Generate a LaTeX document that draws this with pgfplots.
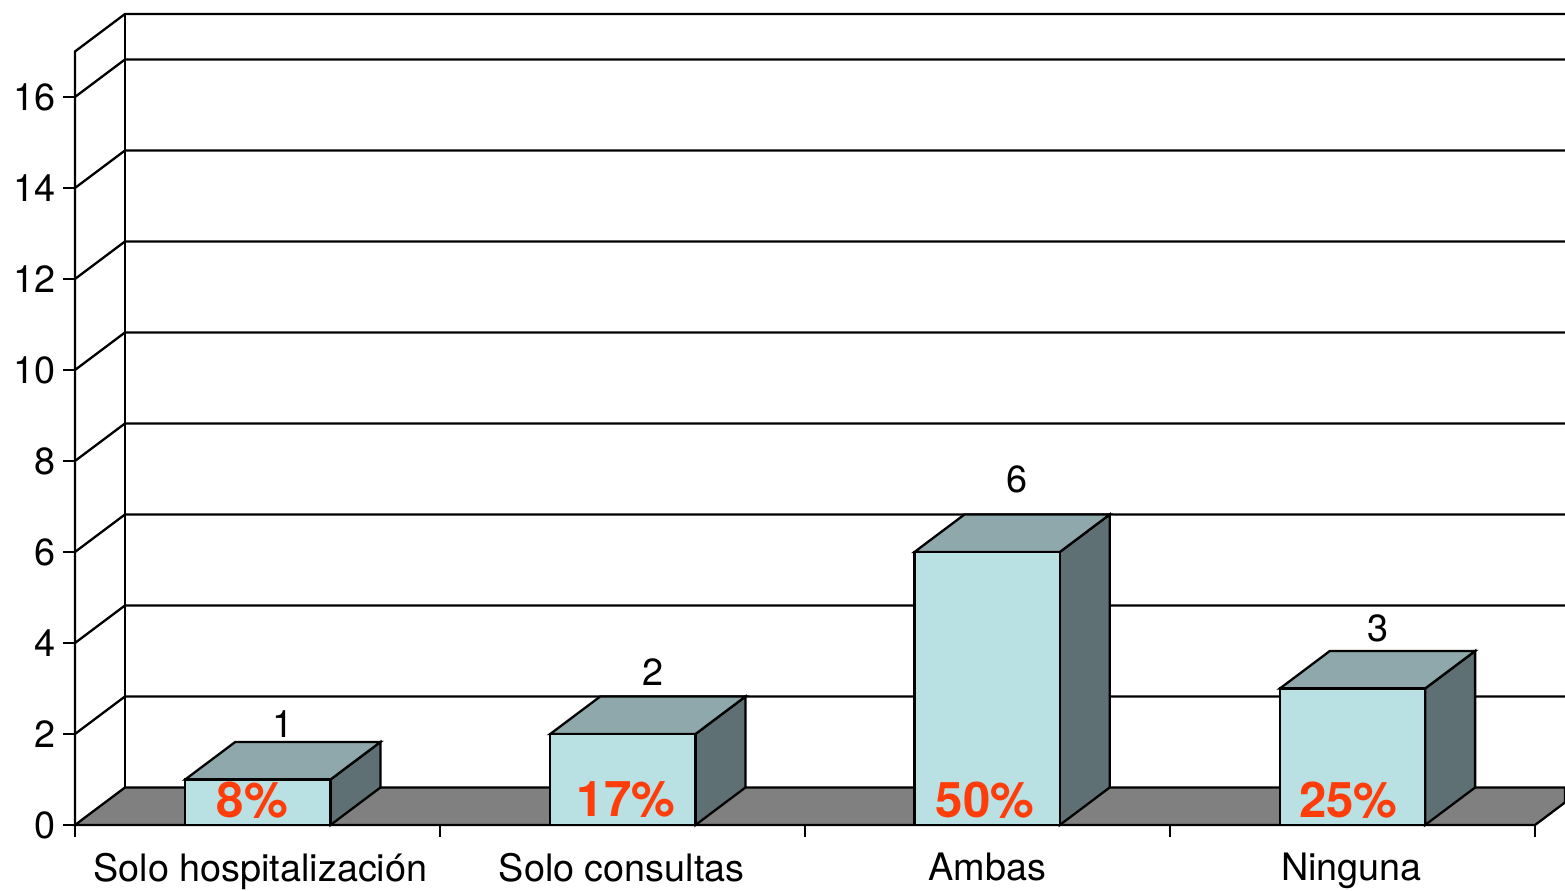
\documentclass[border=0pt]{standalone}
\usepackage{fontspec}
\setmainfont{TeX Gyre Heros}
\usepackage{pgfplots}
\pgfplotsset{compat=1.18}
\definecolor{barfront}{HTML}{B9E0E3}
\definecolor{bartop}{HTML}{8FA8AB}
\definecolor{barside}{HTML}{5E7073}
\definecolor{floorgrey}{HTML}{808080}
\definecolor{pct}{HTML}{FF3D0A}
\begin{document}
\begin{tikzpicture}
\begin{axis}[
    scale only axis,
    width=745pt,
    height=405.5pt,
    xmin=0, xmax=4.0822,
    ymin=0, ymax=17.824,
    clip=false,
    axis x line*=bottom,
    axis y line*=left,
    axis line style={-,draw=none},
    ytick={0,2,4,6,8,10,12,14,16},
    xtick={0,1,2,3,4},
    xticklabels={},
    extra x ticks={0.508,1.498,2.5,3.497},
    extra x tick labels={Solo hospitalización,Solo consultas,Ambas,Ninguna},
    extra x tick style={major tick length=0pt},
    tick align=outside,
    major tick length=6pt,
    tick style={black,line width=0.8pt},
    ytick style={line width=1.1pt},
    /pgf/number format/assume math mode=true,
    tick label style={font=\fontsize{18.9}{20}\selectfont},
    xticklabel style={yshift=-10.5pt},
    yticklabel style={xshift=0pt},
    every axis plot/.append style={line width=1.15pt,line join=miter},
]
% back wall and its grid lines
\addplot[black] coordinates {(0,0) (0,17) (0.137,17.825) (4.0822,17.825)};
\addplot[black] coordinates {(0.137,0.825) (0.137,17.825)};
\addplot[black] coordinates {(0,2) (0.137,2.825) (4.0822,2.825)};
\addplot[black] coordinates {(0,4) (0.137,4.825) (4.0822,4.825)};
\addplot[black] coordinates {(0,6) (0.137,6.825) (4.0822,6.825)};
\addplot[black] coordinates {(0,8) (0.137,8.825) (4.0822,8.825)};
\addplot[black] coordinates {(0,10) (0.137,10.825) (4.0822,10.825)};
\addplot[black] coordinates {(0,12) (0.137,12.825) (4.0822,12.825)};
\addplot[black] coordinates {(0,14) (0.137,14.825) (4.0822,14.825)};
\addplot[black] coordinates {(0,16) (0.137,16.825) (4.0822,16.825)};
% floor
\addplot[black,fill=floorgrey] coordinates {(0,0) (0.137,0.825) (4.0822,0.825) (4.0822,0.495) (4,0)} -- cycle;
% bar sides
\addplot[black,fill=barside] coordinates {(0.7,0) (0.837,0.825) (0.837,1.825) (0.7,1)} -- cycle;
\addplot[black,fill=barside] coordinates {(1.7,0) (1.837,0.825) (1.837,2.825) (1.7,2)} -- cycle;
\addplot[black,fill=barside] coordinates {(2.698,0) (2.835,0.825) (2.835,6.825) (2.698,6)} -- cycle;
\addplot[black,fill=barside] coordinates {(3.699,0) (3.836,0.825) (3.836,3.825) (3.699,3)} -- cycle;
% bar tops
\addplot[black,fill=bartop] coordinates {(0.302,1) (0.439,1.825) (0.837,1.825) (0.7,1)} -- cycle;
\addplot[black,fill=bartop] coordinates {(1.302,2) (1.439,2.825) (1.837,2.825) (1.7,2)} -- cycle;
\addplot[black,fill=bartop] coordinates {(2.3,6) (2.437,6.825) (2.835,6.825) (2.698,6)} -- cycle;
\addplot[black,fill=bartop] coordinates {(3.301,3) (3.438,3.825) (3.836,3.825) (3.699,3)} -- cycle;
% bar fronts
\addplot[ybar,bar width=0.398,bar shift=0pt,draw=black,line width=1.15pt,fill=barfront] coordinates {(0.501,1) (1.501,2) (2.499,6) (3.5,3)};
% value labels
\node[font=\fontsize{18.9}{20}\selectfont] at (axis cs:0.571,2.22) {1};
\node[font=\fontsize{18.9}{20}\selectfont] at (axis cs:1.583,3.36) {2};
\node[font=\fontsize{18.9}{20}\selectfont] at (axis cs:2.58,7.59) {6};
\node[font=\fontsize{18.9}{20}\selectfont] at (axis cs:3.57,4.33) {3};
% percentages
\node[font=\fontsize{24.6}{27}\selectfont\bfseries,text=pct] at (axis cs:0.486,0.55) {8\%};
\node[font=\fontsize{24.6}{27}\selectfont\bfseries,text=pct] at (axis cs:1.51,0.57) {17\%};
\node[font=\fontsize{24.6}{27}\selectfont\bfseries,text=pct] at (axis cs:2.493,0.55) {50\%};
\node[font=\fontsize{24.6}{27}\selectfont\bfseries,text=pct] at (axis cs:3.489,0.55) {25\%};
\end{axis}
\pgfresetboundingbox
\path[use as bounding box] (-37.5pt,-32.5pt) rectangle (745pt,412.5pt);
\end{tikzpicture}
\end{document}
